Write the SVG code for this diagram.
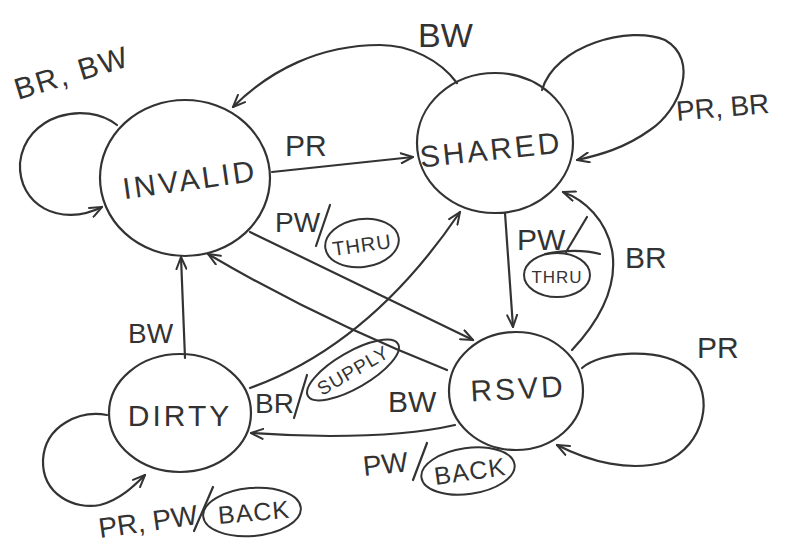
<svg xmlns="http://www.w3.org/2000/svg" width="792" height="553" viewBox="0 0 792 553">
<defs>
<style>
.st{fill:none;stroke:#333;stroke-width:2.2;stroke-linecap:round;stroke-linejoin:round}
.tx{font-family:"Liberation Sans",Arial,sans-serif;fill:#333}
.big{font-size:30px;letter-spacing:3px}
.lbl{font-size:30px}
.sm{font-size:20px;letter-spacing:1px}
.oval{fill:none;stroke:#333;stroke-width:2}
</style>
<marker id="ah" viewBox="0 0 14 12" refX="13" refY="6" markerWidth="14" markerHeight="12" markerUnits="userSpaceOnUse" orient="auto">
<path d="M1,1 L13,6 L1,11" fill="none" stroke="#333" stroke-width="2" stroke-linecap="round" stroke-linejoin="round"/>
</marker>
</defs>
<rect width="792" height="553" fill="#fff"/>

<g id="connectors">
<path class="st" marker-end="url(#ah)" d="M117,125 C85,100 25,115 20,163 C18,205 60,228 102,207"/>
<path class="st" marker-end="url(#ah)" d="M542,90 C555,45 630,25 665,40 C700,60 680,110 650,130 C625,148 600,155 577,160"/>
<path class="st" marker-end="url(#ah)" d="M582,368 C600,352 660,345 690,370 C715,395 705,445 665,462 C630,472 590,462 557,445"/>
<path class="st" marker-end="url(#ah)" d="M107,415 C80,410 45,425 43,460 C42,495 75,510 100,505 C120,500 135,485 145,475"/>
<path class="st" marker-end="url(#ah)" d="M272,172 L413,157"/>
<path class="st" marker-end="url(#ah)" d="M457,83 C440,60 410,45 380,45 C320,45 270,70 233,107"/>
<path class="st" marker-end="url(#ah)" d="M250,232 L473,340"/>
<path class="st" marker-end="url(#ah)" d="M250,388 Q370,345 460,212"/>
<path class="st" marker-end="url(#ah)" d="M447,370 Q320,320 208,254"/>
<path class="st" marker-end="url(#ah)" d="M505,213 L513,327"/>
<path class="st" marker-end="url(#ah)" d="M572,350 C600,320 618,285 612,250 C606,220 585,200 563,192"/>
<path class="st" marker-end="url(#ah)" d="M455,425 C420,433 380,436 330,436 C290,436 265,434 251,433"/>
<path class="st" marker-end="url(#ah)" d="M185,358 L181,257"/>
</g>

<g id="labels">
<text class="tx lbl" transform="translate(18,100) rotate(-17)" letter-spacing="2">BR, BW</text>
<text class="tx lbl" x="285" y="156">PR</text>
<text class="tx" font-size="34" x="418" y="47">BW</text>
<text class="tx" font-size="28" transform="translate(677,121) rotate(-5)">PR, BR</text>
<text class="tx" font-size="28" x="275" y="232">PW</text>
<path class="st" d="M330,205 L316,246"/>
<ellipse class="oval" cx="362" cy="243" rx="37" ry="24" transform="rotate(-8 362 243)"/>
<text class="tx sm" x="362" y="252" text-anchor="middle" transform="rotate(-8 362 245)">THRU</text>
<text class="tx" font-size="30" x="517" y="250">PW</text>
<path class="st" d="M587,217 L566,252"/>
<ellipse class="oval" cx="557" cy="275" rx="33" ry="22"/>
<path class="st" d="M545,254 C565,250 585,250 600,254"/>
<text class="tx" font-size="17" x="557" y="283" text-anchor="middle" letter-spacing="1">THRU</text>
<text class="tx lbl" x="625" y="268">BR</text>
<text class="tx" font-size="28" x="128" y="343">BW</text>
<text class="tx" font-size="28" x="255" y="413">BR</text>
<path class="st" d="M307,375 L294,418"/>
<ellipse class="oval" cx="353" cy="370" rx="52" ry="18" transform="rotate(-30 353 370)"/>
<text class="tx" font-size="19" x="353" y="377" text-anchor="middle" letter-spacing="1" transform="rotate(-30 353 370)">SUPPLY</text>
<text class="tx lbl" x="388" y="412">BW</text>
<text class="tx lbl" x="697" y="358">PR</text>
<text class="tx" font-size="28" x="364" y="476" transform="rotate(-6 364 476)">PW</text>
<path class="st" d="M427,443 L413,480"/>
<ellipse class="oval" cx="468" cy="471" rx="47" ry="23" transform="rotate(-8 468 471)"/>
<text class="tx" font-size="25" x="470" y="480" text-anchor="middle" letter-spacing="1" transform="rotate(-8 470 471)">BACK</text>
<text class="tx" font-size="28" x="100" y="538" transform="rotate(-8 100 538)">PR, PW</text>
<path class="st" d="M213,487 L194,531"/>
<ellipse class="oval" cx="252" cy="512" rx="49" ry="24" transform="rotate(-5 252 512)"/>
<text class="tx" font-size="25" x="254" y="521" text-anchor="middle" letter-spacing="1" transform="rotate(-5 254 512)">BACK</text>
</g>

<g id="invalid">
<ellipse class="st" cx="185" cy="178" rx="85" ry="78"/>
<text class="tx big" x="190" y="190" text-anchor="middle" transform="rotate(-8 190 180)">INVALID</text>
</g>
<g id="shared">
<ellipse class="st" cx="495" cy="143" rx="78" ry="70"/>
<text class="tx big" x="491" y="160" text-anchor="middle" transform="rotate(-6 491 150)">SHARED</text>
</g>
<g id="rsvd">
<ellipse class="st" cx="516" cy="391" rx="67" ry="59"/>
<text class="tx big" x="518" y="399" text-anchor="middle" transform="rotate(-3 518 388)">RSVD</text>
</g>
<g id="dirty">
<ellipse class="st" cx="180" cy="413" rx="71" ry="59"/>
<text class="tx big" x="180" y="426" text-anchor="middle">DIRTY</text>
</g>
</svg>
